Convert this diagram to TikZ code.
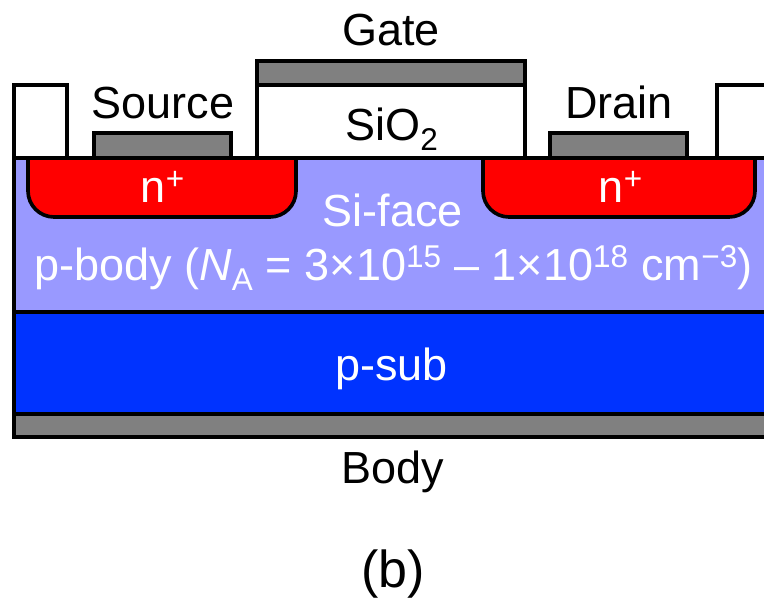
\documentclass[tikz,border=0pt]{standalone}
\usepackage{fontspec}
\setmainfont{Liberation Sans}
\definecolor{metalgray}{RGB}{128, 128, 128}
\definecolor{bodyblue}{RGB}{153, 153, 255}
\definecolor{subblue}{RGB}{0, 51, 255}
\definecolor{dopered}{RGB}{255, 0, 0}
\tikzset{
  layer/.style={draw=black, line width=2.6pt},
  label/.style={font=\fontsize{32}{36}\selectfont, inner sep=0pt},
  inlabel/.style={label, text=white}
}
\begin{document}
\begin{tikzpicture}
  \clip (0, 0) rectangle (19.1, 14.95);

  % Substrate stack
  \draw[layer, fill=metalgray] (0.35, 4.025) rectangle (20, 4.6);
  \draw[layer, fill=subblue] (0.35, 4.6) rectangle (20, 7.15);
  \draw[layer, fill=bodyblue] (0.35, 7.15) rectangle (20, 11);

  % Implants
  \draw[layer, fill=dopered, rounded corners=0.65cm] (0.7, 11) -- (0.7, 9.525) -- (7.4, 9.525) -- (7.4, 11);
  \draw[layer, fill=dopered, rounded corners=0.65cm] (12.075, 11) -- (12.075, 9.525) -- (18.875, 9.525) -- (18.875, 11);

  % Oxide and contacts
  \draw[layer, fill=white] (0.35, 11) rectangle (1.675, 12.825);
  \draw[layer, fill=white] (6.425, 11) rectangle (13.125, 12.825);
  \draw[layer, fill=white] (17.925, 11) rectangle (20, 12.825);
  \draw[layer, fill=metalgray] (6.425, 12.825) rectangle (13.125, 13.425);
  \draw[layer, fill=metalgray] (2.35, 11) rectangle (5.775, 11.625);
  \draw[layer, fill=metalgray] (13.75, 11) rectangle (17.175, 11.625);
  \draw[layer] (0.35, 11) -- (20, 11);

  % Labels
  \node[label] (gate) at (9.775, 14.2) {Gate};
  \node[label] (source) at (4.075, 12.38) {Source};
  \node[label] (oxide) at (9.8, 11.73) {SiO\textsubscript{2}};
  \node[label] (drain) at (15.47, 12.38) {Drain};
  \node[inlabel] (nleft) at (4.07, 10.27) {n\textsuperscript{+}};
  \node[inlabel] (nright) at (15.52, 10.27) {n\textsuperscript{+}};
  \node[inlabel] (face) at (9.82, 9.7) {Si-face};
  \node[inlabel] (pbody) at (9.84, 8.25) {p-body (\textit{N}\textsubscript{A} = 3×10\textsuperscript{15} – 1×10\textsuperscript{18} cm\textsuperscript{−3})};
  \node[inlabel] (psub) at (9.79, 5.72) {p-sub};
  \node[label] (body) at (9.82, 3.15) {Body};
  \node[label, font=\fontsize{37}{42}\selectfont] (caption) at (9.82, 0.6) {(b)};
\end{tikzpicture}
\end{document}
